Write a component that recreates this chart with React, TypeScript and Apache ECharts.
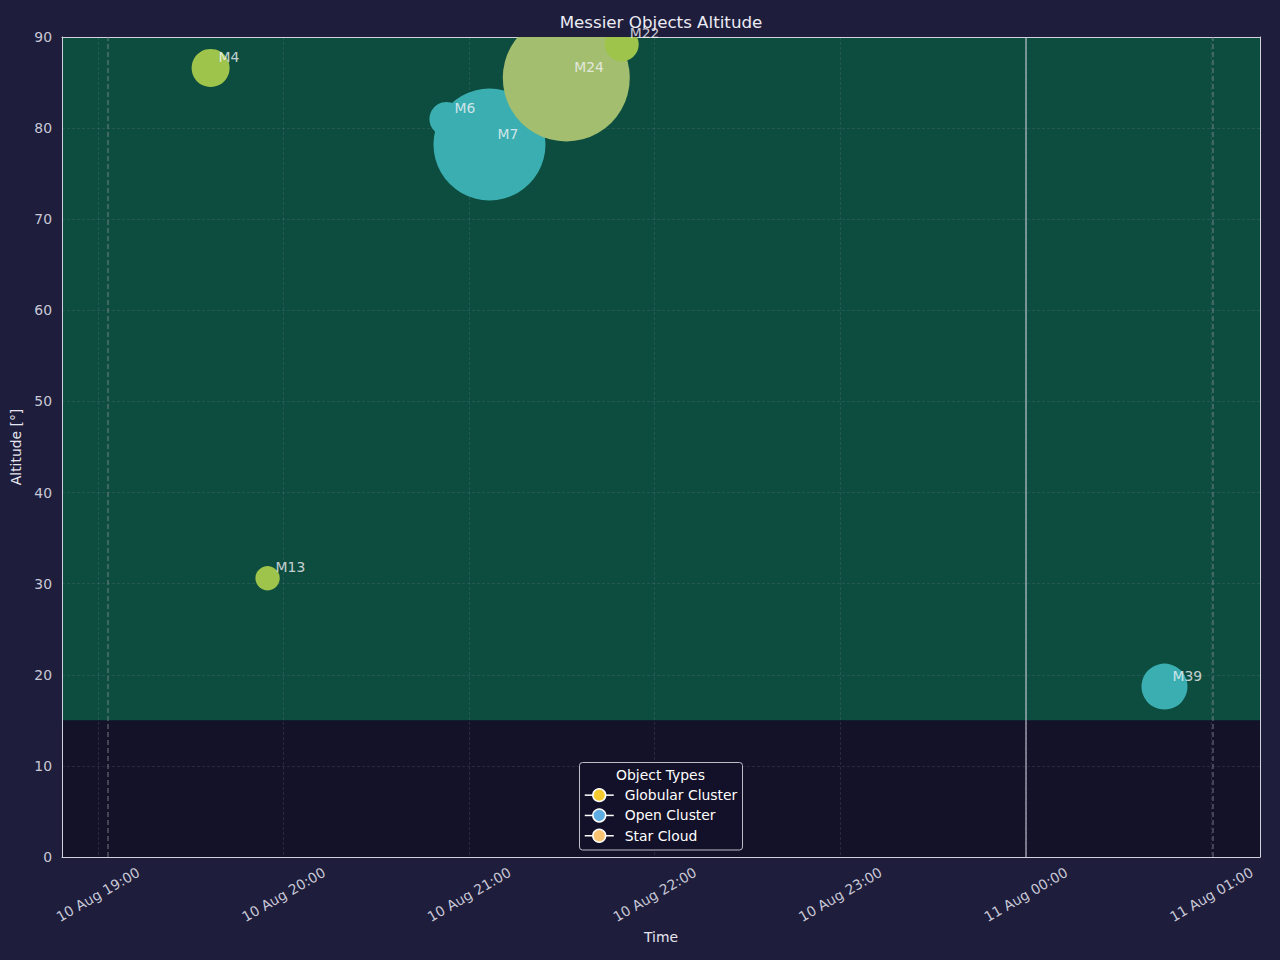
import React, { useEffect, useRef } from 'react';
import * as echarts from 'echarts';

// ---------- data ----------
const objectNames = ['M4', 'M13', 'M6', 'M7', 'M24', 'M22', 'M39'];
const objectTypes = ['Globular Cluster', 'Globular Cluster', 'Open Cluster', 'Open Cluster', 'Star Cloud', 'Globular Cluster', 'Open Cluster'];
const observationTimes = ['19:36:25', '19:54:50', '20:52:40', '21:06:35', '21:31:25', '21:49:20', '00:44:50'];
const altitudes = [86.6, 30.6, 81.0, 78.2, 85.5, 89.2, 18.7];
const bubbleSizes = [38, 24.4, 34, 112, 127, 34, 46];
const typeNames = ['Globular Cluster', 'Open Cluster', 'Star Cloud'];
const timeRange = ['18:48:22', '01:15:43'];
const twilightTimes = ['19:03:15', '01:00:30'];
const midnightTime = '00:00:00';
const horizonLimit = 15;
const altitudeMax = 90;
const dayLabels = ['10 Aug', '11 Aug'];

// ---------- styles ----------
const FONT = '"DejaVu Sans", "Noto Sans", sans-serif';
const PAGE_BG = '#1e1d3c';
const PLOT_BG = '#131229';
const GREEN = '#0d4d3f';
const FRAME = '#d2d2dc';
const TICK_COLOR = '#c8c8d6';
const NAME_COLOR = '#e6e6ee';
const GRID_COLOR = 'rgba(150,150,175,0.22)';
const bubbleColors: Record<string, string> = {
  'Globular Cluster': '#9ec44b',
  'Open Cluster': '#3aaeb0',
  'Star Cloud': '#a3be6e',
};
const legendColors: Record<string, string> = {
  'Globular Cluster': '#f4ca2f',
  'Open Cluster': '#5dade2',
  'Star Cloud': '#f8c471',
};

function toHours(t: string): number {
  const [h, m, s] = t.split(':').map(Number);
  let v = h + m / 60 + (s || 0) / 3600;
  if (h < 12) v += 24;
  return v;
}

const xMin = toHours(timeRange[0]);
const xMax = toHours(timeRange[1]);
const hours = observationTimes.map(toHours);

function pad(n: number) {
  return n < 10 ? '0' + n : String(n);
}

function formatTime(v: number): string {
  const dayIdx = v >= 24 ? 1 : 0;
  let hh = Math.floor(v + 1e-6) % 24;
  let mm = Math.round((v - Math.floor(v + 1e-6)) * 60);
  if (mm >= 60) { mm = 0; hh = (hh + 1) % 24; }
  return `${dayLabels[dayIdx]} ${pad(hh)}:${pad(mm)}`;
}

function buildOption(): any {
  const bubbleData = objectNames.map((n, i) => ({
    name: n,
    value: [hours[i], altitudes[i], bubbleSizes[i]],
    itemStyle: { color: bubbleColors[objectTypes[i]] },
  }));
  const labelData = objectNames.map((n, i) => ({ name: n, value: [hours[i], altitudes[i]] }));

  const dashed = { color: 'rgba(140,140,150,0.55)', width: 1.5, type: [5, 3] };
  const solid = { color: 'rgba(210,210,220,0.7)', width: 1.5, type: 'solid' };

  const legendSeries = typeNames.map((t) => ({
    type: 'line',
    name: t,
    data: [],
    symbol: 'circle',
    color: legendColors[t],
    itemStyle: { color: legendColors[t], borderColor: '#ffffff', borderWidth: 1.5 },
    lineStyle: { color: '#ffffff', width: 1.5 },
  }));

  return {
    animation: false,
    backgroundColor: PAGE_BG,
    textStyle: { fontFamily: FONT },
    grid: {
      left: 62,
      top: 37,
      width: 1198,
      height: 820,
      show: true,
      backgroundColor: PLOT_BG,
      borderWidth: 0,
    },
    xAxis: [
      {
        type: 'value',
        min: xMin,
        max: xMax,
        z: 2,
        name: 'Time',
        nameLocation: 'middle',
        nameGap: 72,
        nameTextStyle: { color: NAME_COLOR, fontSize: 13.9, fontFamily: FONT },
        axisLine: { show: true, onZero: false, lineStyle: { color: FRAME, width: 1 } },
        axisTick: { show: false },
        axisLabel: {
          rotate: 30,
          align: 'center',
          verticalAlign: 'middle',
          margin: 37.5,
          color: TICK_COLOR,
          fontSize: 13.9,
          fontFamily: FONT,
          showMinLabel: false,
          showMaxLabel: false,
          formatter: (v: number) => formatTime(v),
        },
        splitLine: { show: true, lineStyle: { color: GRID_COLOR, width: 0.8, type: [3, 2] } },
      },
      {
        type: 'value',
        position: 'top',
        min: xMin,
        max: xMax,
        z: 2,
        axisLine: { show: true, onZero: false, lineStyle: { color: FRAME, width: 1 } },
        axisTick: { show: false },
        axisLabel: { show: false },
        splitLine: { show: false },
      },
    ],
    yAxis: [
      {
        type: 'value',
        min: 0,
        max: altitudeMax,
        interval: 10,
        z: 2,
        name: 'Altitude [°]',
        nameLocation: 'middle',
        nameGap: 34,
        nameRotate: 90,
        nameTextStyle: { color: NAME_COLOR, fontSize: 13.9, fontFamily: FONT },
        axisLine: { show: true, onZero: false, lineStyle: { color: FRAME, width: 1 } },
        axisTick: { show: false },
        axisLabel: { margin: 10, color: TICK_COLOR, fontSize: 13.9, fontFamily: FONT },
        splitLine: { show: true, lineStyle: { color: GRID_COLOR, width: 0.8, type: [3, 2] } },
      },
      {
        type: 'value',
        position: 'right',
        min: 0,
        max: altitudeMax,
        interval: 10,
        z: 2,
        axisLine: { show: true, onZero: false, lineStyle: { color: FRAME, width: 1 } },
        axisTick: { show: false },
        axisLabel: { show: false },
        splitLine: { show: false },
      },
    ],
    legend: {
      data: typeNames,
      orient: 'vertical',
      left: 584,
      top: 788,
      padding: 0,
      itemWidth: 29,
      itemHeight: 16,
      itemGap: 6,
      z: 7,
      selectedMode: false,
      textStyle: { color: '#ffffff', fontSize: 13.9, fontFamily: FONT, padding: [0, 0, 0, 6] },
      itemStyle: { borderColor: '#ffffff', borderWidth: 1.5 },
      lineStyle: { color: '#ffffff', width: 1.5 },
    },
    graphic: [
      {
        type: 'text',
        z: 0,
        x: 661,
        y: 22,
        style: {
          text: 'Messier Objects Altitude',
          fill: '#ececf4',
          fontSize: 16.7,
          fontFamily: FONT,
          align: 'center',
          verticalAlign: 'middle',
        },
      },
      {
        type: 'rect',
        z: 6,
        shape: { x: 579.5, y: 762.5, width: 163, height: 87.5, r: 3 },
        style: { fill: 'rgba(19,18,41,0.95)', stroke: '#bdbdc8', lineWidth: 1 },
      },
      {
        type: 'text',
        z: 7,
        x: 660.5,
        y: 774.5,
        style: {
          text: 'Object Types',
          fill: '#ffffff',
          fontSize: 13.9,
          fontFamily: FONT,
          align: 'center',
          verticalAlign: 'middle',
        },
      },
    ],
    series: [
      {
        type: 'custom',
        name: 'observable',
        z: 1,
        silent: true,
        data: [[horizonLimit, altitudeMax]],
        renderItem: (params: any, api: any) => {
          const cs = params.coordSys;
          const yLow = api.coord([xMin, api.value(0)])[1];
          const yHigh = api.coord([xMin, api.value(1)])[1];
          return {
            type: 'rect',
            shape: { x: cs.x, y: yHigh, width: cs.width, height: yLow - yHigh },
            style: { fill: GREEN },
          };
        },
        markLine: {
          silent: true,
          symbol: ['none', 'none'],
          label: { show: false },
          animation: false,
          data: [
            { xAxis: toHours(twilightTimes[0]), lineStyle: dashed },
            { xAxis: toHours(midnightTime), lineStyle: solid },
            { xAxis: toHours(twilightTimes[1]), lineStyle: dashed },
          ],
        },
      },
      {
        type: 'custom',
        name: 'objects',
        z: 3,
        clip: true,
        silent: true,
        data: bubbleData,
        encode: { x: 0, y: 1 },
        renderItem: (params: any, api: any) => {
          const p = api.coord([api.value(0), api.value(1)]);
          const r = api.value(2) / 2;
          const color = api.visual('color');
          return {
            type: 'circle',
            shape: { cx: p[0], cy: p[1], r },
            style: { fill: color },
          };
        },
      },
      {
        type: 'scatter',
        name: 'labels',
        z: 4,
        clip: false,
        silent: true,
        symbolSize: 1,
        itemStyle: { color: 'transparent' },
        data: labelData,
        label: {
          show: true,
          formatter: '{b}',
          position: 'right',
          distance: 7.5,
          offset: [0, -11],
          color: '#f4f4f8',
          fontSize: 13.9,
          fontFamily: FONT,
        },
      },
      ...legendSeries,
    ],
  };
}

export default function App() {
  const ref = useRef<HTMLDivElement>(null);
  useEffect(() => {
    if (!ref.current) return;
    const chart = echarts.init(ref.current, null, { renderer: 'svg' });
    chart.setOption(buildOption());
    return () => {
      chart.dispose();
    };
  }, []);
  return (
    <div
      ref={ref}
      style={{ position: 'fixed', left: 0, top: 0, width: 1280, height: 960, background: PAGE_BG }}
    />
  );
}
